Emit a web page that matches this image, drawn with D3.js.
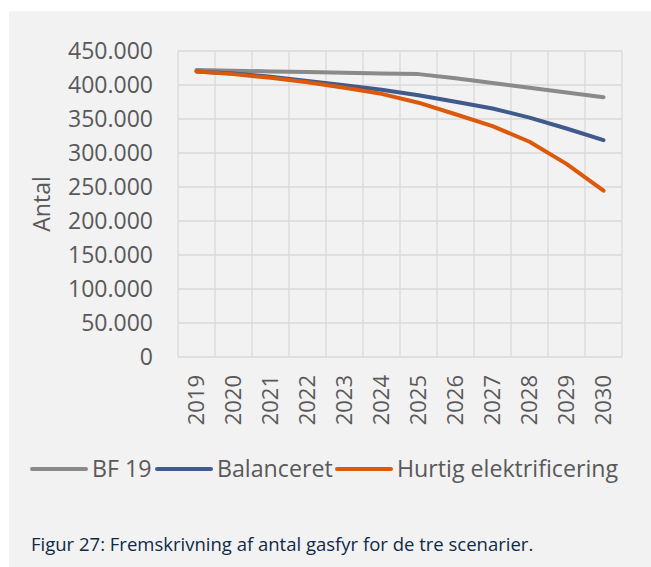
<!DOCTYPE html>
<html>
<head>
<meta charset="utf-8">
<script src="https://cdn.jsdelivr.net/npm/d3@7"></script>
<style>
  body { margin: 0; background: #fff; }
  text { font-family: "Open Sans", sans-serif; }
</style>
</head>
<body>
<script>
const years = ["2019", "2020", "2021", "2022", "2023", "2024", "2025", "2026", "2027", "2028", "2029", "2030"]
const bf19 = [422000, 421000, 420000, 419000, 418000, 417000, 416000, 410000, 403000, 396000, 389000, 382000]
const balanceret = [420000, 417000, 412000, 406000, 399500, 393000, 385000, 375500, 365500, 352000, 336000, 319000]
const hurtig = [420000, 416000, 410500, 404000, 396000, 387000, 374000, 357000, 339500, 316500, 284000, 244500]
const seriesNames = ["BF 19", "Balanceret", "Hurtig elektrificering"]
const yTicks = [0, 50000, 100000, 150000, 200000, 250000, 300000, 350000, 400000, 450000]

const colors = ["#8a8a8a", "#3f5a8b", "#dc590c"]
const series = [bf19, balanceret, hurtig]

const W = 651, H = 567
const plot = { left: 178, right: 622, top: 51, bottom: 357 }

const svg = d3.select("body")
    .append("svg")
    .attr("width", W)
    .attr("height", H)

// chart area background
svg.append("rect")
    .attr("x", 9).attr("y", 11)
    .attr("width", W - 9).attr("height", H - 11)
    .attr("fill", "#f2f2f2")

const x = d3.scaleBand().domain(years).range([plot.left, plot.right])
const y = d3.scaleLinear().domain([0, 450000]).range([plot.bottom, plot.top])

const fmt = d3.formatLocale({ decimal: ",", thousands: ".", grouping: [3], currency: ["", ""] }).format(",")

// gridlines
const grid = svg.append("g").attr("stroke", "#d9d9d9").attr("stroke-width", 1.3)
grid.selectAll(".hg")
    .data(yTicks)
    .enter().append("line")
    .attr("x1", plot.left).attr("x2", plot.right)
    .attr("y1", d => y(d)).attr("y2", d => y(d))
grid.selectAll(".vg")
    .data(years.concat(["end"]))
    .enter().append("line")
    .attr("x1", (d, i) => i < years.length ? x(d) : plot.right)
    .attr("x2", (d, i) => i < years.length ? x(d) : plot.right)
    .attr("y1", plot.top).attr("y2", plot.bottom)

// y axis
const yaxis = d3.axisLeft(y)
    .tickValues(yTicks)
    .tickFormat(fmt)
    .tickSize(0)
    .tickPadding(0)

svg.append("g")
    .attr("transform", `translate(153,0)`)
    .call(yaxis)
    .call(g => g.select(".domain").remove())
    .selectAll("text")
    .attr("font-family", "Open Sans")
    .attr("font-size", 23)
    .attr("fill", "#595959")

// x axis
const xaxis = d3.axisBottom(x).tickSize(0)
svg.append("g")
    .attr("transform", `translate(0,${plot.bottom})`)
    .call(xaxis)
    .call(g => g.select(".domain").remove())
    .selectAll("text")
    .attr("font-family", "Open Sans")
    .attr("font-size", 22)
    .attr("fill", "#595959")
    .attr("transform", "rotate(-90)")
    .attr("text-anchor", "end")
    .attr("x", -18)
    .attr("y", 0)
    .attr("dy", "0.35em")

svg.append("text")
    .attr("transform", "rotate(-90)")
    .attr("x", -204)
    .attr("y", 42)
    .attr("dy", "0.35em")
    .attr("text-anchor", "middle")
    .attr("font-size", 23)
    .attr("fill", "#595959")
    .text("Antal")

// lines
const line = d3.line()
    .x((d, i) => x(years[i]) + x.bandwidth() / 2)
    .y(d => y(d))

svg.selectAll(".line")
    .data(series)
    .enter().append("path")
    .attr("d", line)
    .attr("fill", "none")
    .attr("stroke", (d, i) => colors[i])
    .attr("stroke-width", 4)
    .attr("stroke-linecap", "round")
    .attr("stroke-linejoin", "round")

// legend
const legendX = [32, 157, 337]
const legend = svg.selectAll(".legend")
    .data(seriesNames)
    .enter().append("g")
    .attr("transform", (d, i) => `translate(${legendX[i]},469)`)
legend.append("line")
    .attr("x1", 0).attr("x2", 54)
    .attr("stroke", (d, i) => colors[i])
    .attr("stroke-width", 4)
    .attr("stroke-linecap", "round")
legend.append("text")
    .attr("x", 60)
    .attr("dy", "0.35em")
    .attr("font-size", 23.2)
    .attr("fill", "#595959")
    .text(d => d)

// caption
svg.append("text")
    .attr("x", 31)
    .attr("y", 551)
    .attr("font-size", 18.5)
    .attr("fill", "#0e2a47")
    .text("Figur 27: Fremskrivning af antal gasfyr for de tre scenarier.")
</script>
</body>
</html>
